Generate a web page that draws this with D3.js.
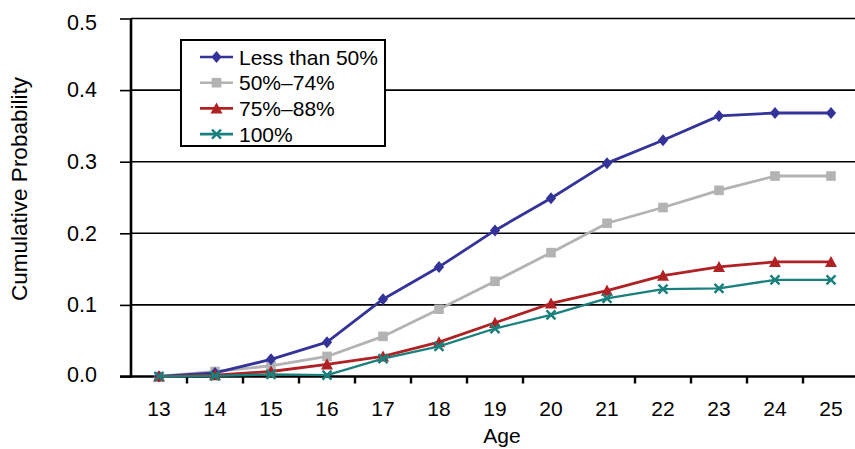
<!DOCTYPE html>
<html><head><meta charset="utf-8">
<script src="https://cdn.jsdelivr.net/npm/d3@7"></script>
<style>
html,body{margin:0;padding:0;background:#fff;}
svg{display:block;font-family:"Liberation Sans",Arial,Helvetica,sans-serif;}
</style></head>
<body>
<svg id="chart" width="855" height="449"></svg>
<script>
const ages = [13,14,15,16,17,18,19,20,21,22,23,24,25];
const seriesNames = ["Less than 50%","50%\u201374%","75%\u201388%","100%"];
const lessThan50 = [0,0.005,0.024,0.048,0.108,0.153,0.204,0.249,0.298,0.330,0.364,0.368,0.368];
const from50to74 = [0,0.007,0.015,0.028,0.056,0.094,0.133,0.173,0.214,0.236,0.260,0.280,0.280];
const from75to88 = [0,0.002,0.007,0.017,0.028,0.048,0.075,0.102,0.120,0.141,0.153,0.160,0.160];
const full100 =    [0,0.001,0.003,0.002,0.025,0.042,0.067,0.086,0.109,0.122,0.123,0.135,0.135];
const yTicks = [0,0.1,0.2,0.3,0.4,0.5];
const yTickLabels = ["0.0","0.1","0.2","0.3","0.4","0.5"];
const xTitle = "Age";
const yTitle = "Cumulative Probability";

const colors = ["#333399","#b3b3b3","#b02124","#1a807d"];
const markers = ["diamond","square","triangle","cross"];
const seriesValues = [lessThan50, from50to74, from75to88, full100];

const svg = d3.select("#chart");
const pLeft = 131, pRight = 859, pTop = 18.5, pBottom = 376.5;

const x = d3.scaleBand().domain(ages).range([pLeft, pRight]);
const y = d3.scaleLinear().domain([0, 0.5]).range([pBottom, pTop]);
const cx = a => x(a) + x.bandwidth()/2;

// gridlines
svg.append("g").selectAll("line").data(yTicks.filter(d => d > 0)).join("line")
  .attr("x1", pLeft).attr("x2", pRight)
  .attr("y1", d => y(d)).attr("y2", d => y(d))
  .attr("stroke", "#000").attr("stroke-width", 1.6);

// y axis
const yAxis = d3.axisLeft(y).tickValues(yTicks).tickFormat((d,i) => yTickLabels[i])
  .tickSize(11).tickPadding(23);
const gy = svg.append("g").attr("transform", `translate(${pLeft},0)`).call(yAxis);
gy.select(".domain").attr("stroke-width", 2.6).attr("d", `M0,${pTop}V${pBottom+1}`);
gy.selectAll(".tick line").attr("stroke-width", 1.6);
gy.selectAll(".tick text").attr("font-size", 21.5).attr("fill", "#000")
  .attr("font-family", "Liberation Sans, Arial, sans-serif")
  .attr("y", d => d === 0.5 ? 4 : (d === 0 ? -2 : 0));

// x axis
const xAxis = d3.axisBottom(x).tickSize(0).tickPadding(25);
const gx = svg.append("g").attr("transform", `translate(0,${pBottom})`).call(xAxis);
gx.select(".domain").attr("stroke-width", 2.6).attr("d", `M${pLeft-11},0H${pRight}`);
gx.selectAll(".tick text").attr("font-size", 21).attr("fill", "#000")
  .attr("font-family", "Liberation Sans, Arial, sans-serif");
// tick marks between categories (one between 20 and 21 is absent in the original)
const sepAges = ages.slice(1).filter(a => a !== 21);
svg.append("g").selectAll("line").data(sepAges).join("line")
  .attr("x1", d => x(d)).attr("x2", d => x(d))
  .attr("y1", pBottom).attr("y2", pBottom + 7)
  .attr("stroke", "#000").attr("stroke-width", 2.4);

// titles
svg.append("text").attr("x", 502).attr("y", 443).attr("text-anchor", "middle")
  .attr("font-size", 21).text(xTitle);
svg.append("text").attr("transform", "translate(27,189) rotate(-90)")
  .attr("text-anchor", "middle").attr("font-size", 22.5).text(yTitle);

function drawMarker(g, type, color, px, py, s) {
  s = s || 1;
  if (type === "diamond") {
    const r = 6*s;
    g.append("path").attr("d", `M${px},${py-r}L${px+r*0.85},${py}L${px},${py+r}L${px-r*0.85},${py}Z`).attr("fill", color);
  } else if (type === "square") {
    const r = 4.8*s;
    g.append("rect").attr("x", px-r).attr("y", py-r).attr("width", 2*r).attr("height", 2*r).attr("fill", color);
  } else if (type === "triangle") {
    const r = 6*s;
    g.append("path").attr("d", `M${px},${py-r}L${px+r},${py+r*0.85}L${px-r},${py+r*0.85}Z`).attr("fill", color);
  } else {
    const r = 4.5*s;
    g.append("path").attr("d", `M${px-r},${py-r}L${px+r},${py+r}M${px-r},${py+r}L${px+r},${py-r}`)
      .attr("stroke", color).attr("stroke-width", 2.4).attr("fill", "none");
  }
}

const line = d3.line().x((d,i) => cx(ages[i])).y(d => y(d));
const widths = [2.8, 2.8, 2.8, 2.3];
const order = [1,0,2,3];
order.forEach(si => {
  const g = svg.append("g");
  g.append("path").datum(seriesValues[si]).attr("d", line)
    .attr("fill", "none").attr("stroke", colors[si]).attr("stroke-width", widths[si])
    .attr("stroke-linejoin", "round");
  seriesValues[si].forEach((v,i) => drawMarker(g, markers[si], colors[si], cx(ages[i]), y(v)));
});

// legend
const lg = svg.append("g");
lg.append("rect").attr("x", 181).attr("y", 40).attr("width", 204).attr("height", 106)
  .attr("fill", "#fff").attr("stroke", "#000").attr("stroke-width", 2);
seriesNames.forEach((name, i) => {
  const yy = 57 + i*25.7;
  lg.append("line").attr("x1", 200).attr("x2", 233).attr("y1", yy).attr("y2", yy)
    .attr("stroke", colors[i]).attr("stroke-width", 2.6);
  drawMarker(lg, markers[i], colors[i], 216.5, yy);
  lg.append("text").attr("x", 239).attr("y", yy + 7.5).attr("font-size", 21).text(name);
});
</script>
</body></html>
